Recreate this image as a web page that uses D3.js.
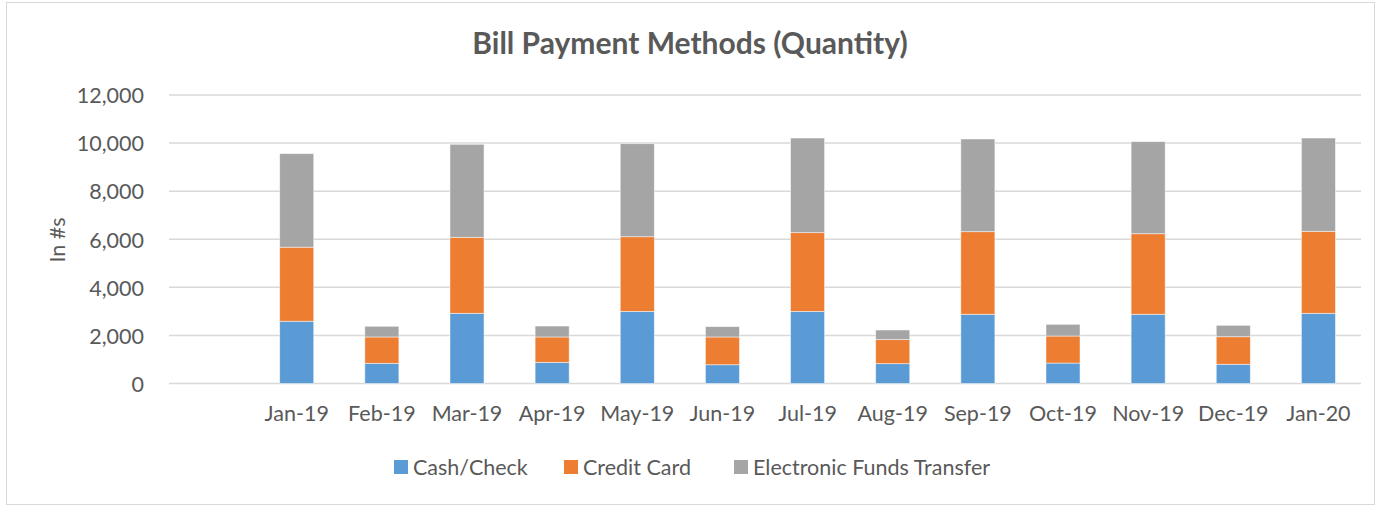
<!DOCTYPE html>
<html>
<head>
<meta charset="utf-8">
<script src="https://cdn.jsdelivr.net/npm/d3@7"></script>
<style>
  body { margin: 0; background: #fff; }
  svg text { font-family: Lato, "Open Sans", sans-serif; fill: #595959; }
</style>
</head>
<body>
<svg id="chart" width="1377" height="506"></svg>
<script>
// Data (first slot is an empty category, as in the source sheet)
const months = ['', 'Jan-19', 'Feb-19', 'Mar-19', 'Apr-19', 'May-19', 'Jun-19', 'Jul-19',
    'Aug-19', 'Sep-19', 'Oct-19', 'Nov-19', 'Dec-19', 'Jan-20'];
const cashCheck = [0, 2590, 840, 2920, 880, 3000, 780, 3000, 825, 2880, 850, 2880, 800, 2920];
const creditCard = [0, 3080, 1095, 3160, 1055, 3105, 1155, 3275, 1000, 3435, 1125, 3350, 1145, 3410];
const eft = [0, 3890, 445, 3870, 455, 3870, 430, 3935, 400, 3855, 485, 3830, 475, 3880];
const seriesNames = ['Cash/Check', 'Credit Card', 'Electronic Funds Transfer'];
const seriesColors = ['#5b9bd5', '#ed7d31', '#a5a5a5'];
const yTicks = [0, 2000, 4000, 6000, 8000, 10000, 12000];

const CHART = {
    width: 1377,
    height: 506,
    margin: { top: 95, right: 16, bottom: 122.5, left: 169 }
};
const LABEL_SIZE = 21.5;

const svg = d3.select('#chart');

// Outer border
svg.append('rect')
    .attr('x', 6.5).attr('y', 2.5)
    .attr('width', 1368).attr('height', 502)
    .attr('fill', '#fff')
    .attr('stroke', '#d9d9d9')
    .attr('stroke-width', 1);

const x = d3.scaleBand()
    .domain(months.map((m, i) => i))
    .range([CHART.margin.left, CHART.width - CHART.margin.right])
    .paddingInner(0.6)
    .paddingOuter(0.3);

const y = d3.scaleLinear()
    .domain([0, 12000])
    .range([CHART.height - CHART.margin.bottom, CHART.margin.top]);

// Gridlines
svg.append('g')
    .selectAll('line')
    .data(yTicks)
    .join('line')
    .attr('x1', CHART.margin.left)
    .attr('x2', CHART.width - CHART.margin.right)
    .attr('y1', d => y(d))
    .attr('y2', d => y(d))
    .attr('stroke', '#d9d9d9')
    .attr('stroke-width', 1.5);

// Y axis labels
const yAxis = svg.append('g')
    .attr('transform', `translate(${CHART.margin.left - 22},0)`)
    .call(d3.axisLeft(y).tickValues(yTicks).tickFormat(d3.format(',')).tickSize(0));
yAxis.select('.domain').remove();
yAxis.selectAll('text')
    .attr('font-size', LABEL_SIZE)
    .attr('dy', '0.36em')
    .style('font-family', 'Lato, sans-serif')
    .attr('fill', '#595959');

// Stacked bars
const rows = months.map((m, i) => ({ i, cash: cashCheck[i], cc: creditCard[i], eft: eft[i] }));
const stack = d3.stack().keys(['cash', 'cc', 'eft'])(rows);

svg.append('g')
    .selectAll('g')
    .data(stack)
    .join('g')
    .attr('fill', (d, k) => seriesColors[k])
    .selectAll('rect')
    .data(d => d.filter(p => p[1] > p[0]))
    .join('rect')
    .attr('x', d => x(d.data.i))
    .attr('width', x.bandwidth())
    .attr('y', d => y(d[1]))
    .attr('height', d => y(d[0]) - y(d[1]))
    .attr('stroke', '#fff')
    .attr('stroke-opacity', 0.6)
    .attr('stroke-width', 0.8);

// X axis labels
const xAxis = svg.append('g')
    .attr('transform', `translate(0,${y(0)})`)
    .call(d3.axisBottom(x).tickFormat(i => months[i]).tickSize(0));
xAxis.select('.domain').remove();
xAxis.selectAll('text')
    .attr('font-size', LABEL_SIZE)
    .attr('y', 37.5)
    .attr('dy', 0)
    .style('font-family', 'Lato, sans-serif')
    .attr('fill', '#595959');

// Title
svg.append('text')
    .attr('x', 690)
    .attr('y', 53.5)
    .attr('text-anchor', 'middle')
    .attr('font-size', 30)
    .attr('font-weight', 'bold')
    .text('Bill Payment Methods (Quantity)');

// Y axis title
svg.append('text')
    .attr('transform', 'translate(65,240) rotate(-90)')
    .attr('text-anchor', 'middle')
    .attr('font-size', LABEL_SIZE)
    .text('In #s');

// Legend
const legendX = [394, 564, 734];
const legend = svg.append('g')
    .selectAll('g')
    .data(seriesNames)
    .join('g')
    .attr('transform', (d, k) => `translate(${legendX[k]},460)`);
legend.append('rect')
    .attr('width', 14).attr('height', 14)
    .attr('fill', (d, k) => seriesColors[k]);
legend.append('text')
    .attr('x', 19)
    .attr('y', 7)
    .attr('dy', '0.36em')
    .attr('font-size', LABEL_SIZE)
    .text(d => d);
</script>
</body>
</html>
